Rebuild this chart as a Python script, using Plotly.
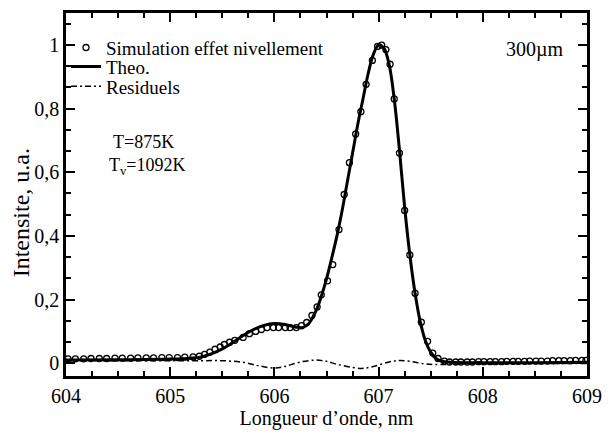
import plotly.graph_objects as go

# Theo. (solid line)
theo_x = [604.0, 604.5, 605.0, 605.2, 605.3, 605.4, 605.5, 605.6, 605.7, 605.8, 605.9,
          606.0, 606.1, 606.2, 606.27, 606.33, 606.4, 606.45, 606.5, 606.55, 606.6,
          606.65, 606.7, 606.75, 606.8, 606.85, 606.9, 606.95, 607.0, 607.05, 607.1,
          607.15, 607.2, 607.25, 607.3, 607.35, 607.4, 607.45, 607.5, 607.55, 607.6,
          607.7, 608.0, 608.5, 609.0]
theo_y = [0.010, 0.011, 0.013, 0.016, 0.020, 0.030, 0.045, 0.065, 0.087, 0.106, 0.119,
          0.125, 0.122, 0.114, 0.112, 0.125, 0.165, 0.21, 0.265, 0.33, 0.40,
          0.48, 0.57, 0.66, 0.75, 0.83, 0.91, 0.97, 1.0, 0.99, 0.94,
          0.83, 0.67, 0.49, 0.34, 0.22, 0.13, 0.07, 0.035, 0.015, 0.007,
          0.003, 0.002, 0.002, 0.003]

# Simulation effet nivellement (circles)
sim_x = [604.02, 604.09, 604.17, 604.24, 604.32, 604.39, 604.47, 604.54, 604.62, 604.69,
         604.77, 604.84, 604.92, 604.99, 605.07, 605.14, 605.22, 605.28, 605.33, 605.38,
         605.43, 605.48, 605.52, 605.57, 605.62, 605.70, 605.76, 605.82, 605.875, 605.93,
         605.99, 606.04, 606.105, 606.15, 606.21, 606.26, 606.31, 606.36, 606.41, 606.45,
         606.51, 606.56, 606.62, 606.67, 606.72, 606.78, 606.83, 606.88, 606.94, 606.99,
         607.03, 607.07, 607.11, 607.15, 607.20, 607.25, 607.30, 607.35, 607.41, 607.47,
         607.52, 607.57, 607.63, 607.68, 607.74, 607.79, 607.85, 607.90, 607.96, 608.01,
         608.07, 608.12, 608.18, 608.23, 608.29, 608.34, 608.40, 608.45, 608.51, 608.56,
         608.62, 608.67, 608.73, 608.78, 608.84, 608.89, 608.95, 608.99]
sim_y = [0.014, 0.014, 0.014, 0.015, 0.015, 0.015, 0.016, 0.016, 0.016, 0.017,
         0.017, 0.017, 0.018, 0.018, 0.018, 0.019, 0.020, 0.022, 0.028, 0.035,
         0.044, 0.051, 0.059, 0.066, 0.072, 0.081, 0.093, 0.100, 0.106, 0.112,
         0.112, 0.112, 0.112, 0.112, 0.112, 0.118, 0.128, 0.150, 0.177, 0.215,
         0.259, 0.31, 0.42, 0.53, 0.63, 0.72, 0.79, 0.876, 0.951, 0.995,
         0.999, 0.985, 0.939, 0.83, 0.66, 0.48, 0.34, 0.22, 0.129, 0.069,
         0.032, 0.015, 0.007, 0.004, 0.004, 0.004, 0.004, 0.004, 0.005, 0.005,
         0.005, 0.005, 0.005, 0.006, 0.006, 0.006, 0.006, 0.007, 0.007, 0.007,
         0.007, 0.008, 0.008, 0.008, 0.008, 0.009, 0.009, 0.009]

# Residuels (dash-dot)
res_x = [604.0, 604.5, 605.0, 605.3, 605.5, 605.7, 605.85, 606.0, 606.1, 606.25, 606.4,
         606.5, 606.6, 606.75, 606.85, 606.95, 607.1, 607.2, 607.3, 607.45, 607.6,
         607.8, 608.0, 609.0]
res_y = [0.008, 0.008, 0.008, 0.008, 0.008, 0.003, -0.008, -0.015, -0.010, 0.004, 0.010,
         0.006, -0.003, -0.013, -0.016, -0.010, 0.004, 0.009, 0.006, -0.002, -0.004,
         -0.002, -0.001, -0.001]

FONT = "'Liberation Serif', 'Times New Roman', 'DejaVu Serif', serif"

fig = go.Figure()
fig.add_trace(go.Scatter(
    x=sim_x, y=sim_y, mode="markers", name="Simulation effet nivellement",
    marker=dict(symbol="circle-open", size=6, color="black", line=dict(width=1.3, color="black")),
    legend="legend",
))
fig.add_trace(go.Scatter(
    x=theo_x, y=theo_y, mode="lines", name="Theo.", line_shape="spline",
    line=dict(color="black", width=3), legend="legend2",
))
fig.add_trace(go.Scatter(
    x=res_x, y=res_y, mode="lines", name="Residuels", line_shape="spline",
    line=dict(color="black", width=1.5, dash="6px,3px,2px,3px"), legend="legend3",
))

axis_common = dict(
    showline=True, linewidth=2.5, linecolor="black", mirror="ticks",
    ticks="inside", ticklen=9, tickwidth=2, tickcolor="black",
    showgrid=False, zeroline=False,
    tickfont=dict(family=FONT, size=20, color="black"),
)

fig.update_xaxes(
    range=[604, 609], dtick=1, tick0=604,
    minor=dict(dtick=0.25, ticks="inside", ticklen=5, tickwidth=2, tickcolor="black", showgrid=False),
    title=dict(text="Longueur d’onde, nm", font=dict(family=FONT, size=20, color="black"), standoff=4),
    **axis_common,
)
fig.update_yaxes(
    range=[-0.04, 1.1], dtick=0.2, tick0=0,
    minor=dict(dtick=0.2 / 3, tick0=0, ticks="inside", ticklen=5, tickwidth=2, tickcolor="black", showgrid=False),
    **axis_common,
)

fig.add_annotation(x=-0.087, y=0.45, xref="paper", yref="paper", text="Intensite, u.a.",
                   textangle=-90, xanchor="center", yanchor="middle",
                   showarrow=False, font=dict(family=FONT, size=24, color="black"))
fig.add_annotation(x=0.90, y=0.899, xref="paper", yref="paper", text="300µm",
                   xanchor="center", yanchor="middle",
                   showarrow=False, font=dict(family=FONT, size=20, color="black"))
fig.add_annotation(x=0.148, y=0.645, xref="paper", yref="paper", text="T=875K",
                   xanchor="center", yanchor="middle",
                   showarrow=False, font=dict(family=FONT, size=18, color="black"))
fig.add_annotation(x=0.155, y=0.577, xref="paper", yref="paper", text="T<sub>v</sub>=1092K",
                   xanchor="center", yanchor="middle",
                   showarrow=False, font=dict(family=FONT, size=18, color="black"))

leg_common = dict(x=0.0, xanchor="left", yanchor="middle", bgcolor="rgba(0,0,0,0)",
                  itemwidth=30, font=dict(family=FONT, size=19, color="black"))

fig.update_layout(
    width=612, height=436,
    margin=dict(l=66, r=18, t=10, b=60),
    plot_bgcolor="white", paper_bgcolor="white",
    separators=", ",
    showlegend=True,
    legend=dict(y=0.9045, **leg_common),
    legend2=dict(y=0.8525, **leg_common),
    legend3=dict(y=0.798, **leg_common),
)

fig.write_html("out.html", config={"displayModeBar": False},
               post_script="document.body.style.margin='0';")
